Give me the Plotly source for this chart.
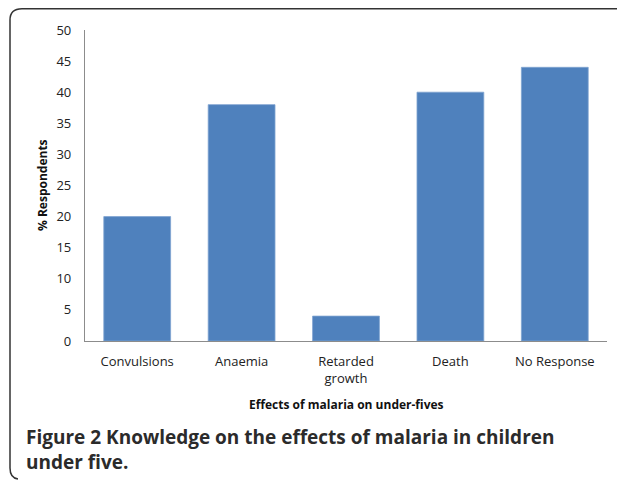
import plotly.graph_objects as go

categories = ["Convulsions", "Anaemia", "Retarded<br>growth", "Death", "No Response"]
values = [20, 38, 4, 40, 44]
y_ticks = [0, 5, 10, 15, 20, 25, 30, 35, 40, 45, 50]

# page body has an 8px margin; figure is sized to fill the rest of the window
OFF = 8
W, H = 625 - OFF, 480 - OFF
def px(x): return (x - OFF) / W
def py(y): return 1 - (y - OFF) / H

fig = go.Figure(go.Bar(
    x=categories, y=values,
    marker=dict(color="#4F81BD", line=dict(color="#7FA3D0", width=0.8)),
    width=0.64,
))

frame = (f"M {px(625)},{py(8.8)} L {px(22)},{py(8.8)} Q {px(10)},{py(8.8)} {px(10)},{py(20)} "
         f"L {px(10)},{py(468)} Q {px(10)},{py(478)} {px(18)},{py(479)}")

fig.update_layout(
    width=W, height=H,
    margin=dict(l=0, r=0, t=0, b=0, autoexpand=False),
    paper_bgcolor="white", plot_bgcolor="white",
    showlegend=False,
    font=dict(family="Open Sans, Liberation Sans, sans-serif", size=13, color="#222"),
    xaxis=dict(domain=[px(85), px(607)], showline=True, linecolor="#8C8C8C", linewidth=1.2,
               ticks="", showgrid=False, ticklabelstandoff=8, automargin=False,
               tickfont=dict(size=13, color="#222")),
    yaxis=dict(domain=[py(341), py(30)], range=[0, 50], tickvals=y_ticks,
               showline=True, linecolor="#8C8C8C", linewidth=1.2, ticks="",
               showgrid=False, zeroline=False, ticklabelstandoff=10, automargin=False,
               tickfont=dict(size=13, color="#222")),
    shapes=[dict(type="path", path=frame, xref="paper", yref="paper",
                 line=dict(color="#333", width=1.5))],
    annotations=[
        dict(text="<b>% Respondents</b>", textangle=-90, x=px(42), y=py(185),
             xanchor="center", yanchor="middle",
             xref="paper", yref="paper", showarrow=False, font=dict(size=12, color="#111")),
        dict(text="<b>Effects of malaria on under-fives</b>", x=px(346), y=py(404),
             xanchor="center", yanchor="middle",
             xref="paper", yref="paper", showarrow=False, font=dict(size=12, color="#111")),
        dict(text="<b>Figure 2 Knowledge on the effects of malaria in children<br>under five.</b>",
             x=px(24), y=py(449), xref="paper", yref="paper", xanchor="left", yanchor="middle",
             align="left", showarrow=False,
             font=dict(size=19, color="#2b2b2b", family="Open Sans, sans-serif")),
    ],
)

fig.write_html("out.html")
